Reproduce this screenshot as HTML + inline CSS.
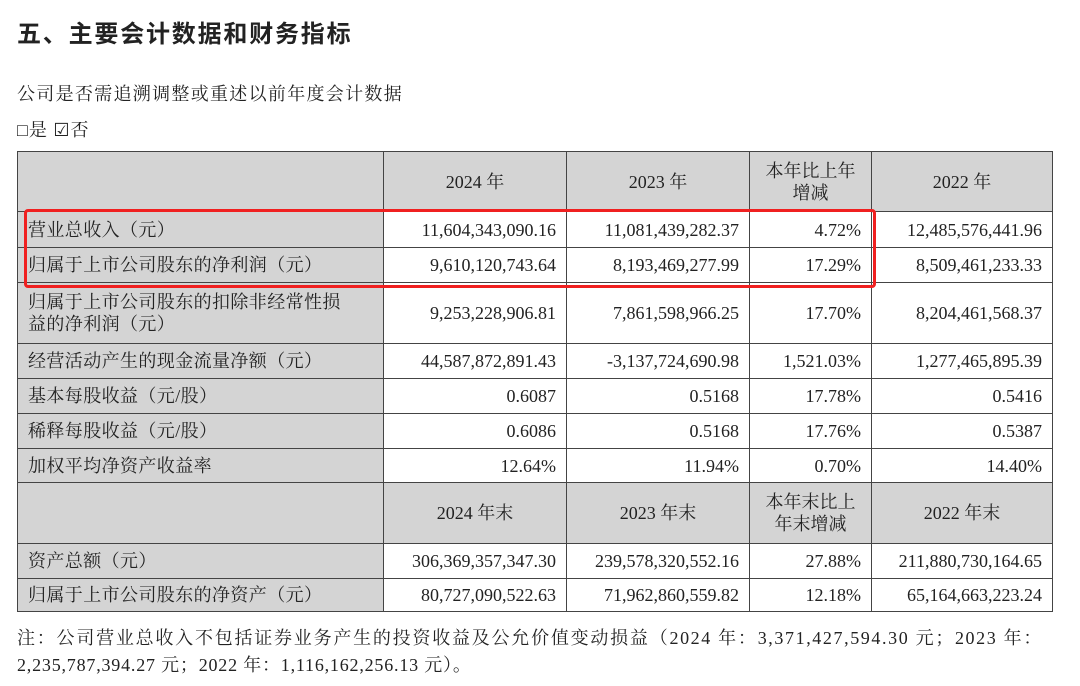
<!DOCTYPE html>
<html><head><meta charset="utf-8"><style>
body{margin:0;width:1080px;height:686px;background:#fff;font-family:"Liberation Serif","Noto Serif CJK SC",serif;color:#222;position:relative;overflow:hidden}
.t{position:absolute;white-space:nowrap}
table{position:absolute;left:17px;top:151px;border-collapse:collapse;font-size:18px}
td{border:1px solid #444;padding:0 10px;line-height:22px}
td.g{background:#d4d4d4;letter-spacing:0.4px}
td.r{text-align:right}
td.c{text-align:center;letter-spacing:0}
.w{letter-spacing:1px}
.box{position:absolute;left:24px;top:209px;width:846px;height:73px;border:3px solid #f02020;border-radius:4px}
</style></head><body>
<div class="t" style="left:17px;top:14px;font-size:24px;letter-spacing:1.8px;font-weight:bold;font-family:'Noto Sans CJK SC',sans-serif">五、主要会计数据和财务指标</div>
<div class="t" style="left:17px;top:80px;font-size:18px;letter-spacing:1.3px">公司是否需追溯调整或重述以前年度会计数据</div>
<div class="t" style="left:17px;top:116px;font-size:18px;letter-spacing:1px">□是 ☑否</div>
<table>
<colgroup><col style="width:366px"><col style="width:183px"><col style="width:183px"><col style="width:122px"><col style="width:181px"></colgroup>
<tr style="height:60px"><td class="g"></td><td class="g c">2024 年</td><td class="g c">2023 年</td><td class="g c w">本年比上年<br>增减</td><td class="g c">2022 年</td></tr>
<tr style="height:36px"><td class="g">营业总收入（元）</td><td class="r">11,604,343,090.16</td><td class="r">11,081,439,282.37</td><td class="r">4.72%</td><td class="r">12,485,576,441.96</td></tr>
<tr style="height:35px"><td class="g">归属于上市公司股东的净利润（元）</td><td class="r">9,610,120,743.64</td><td class="r">8,193,469,277.99</td><td class="r">17.29%</td><td class="r">8,509,461,233.33</td></tr>
<tr style="height:61px"><td class="g">归属于上市公司股东的扣除非经常性损<br>益的净利润（元）</td><td class="r">9,253,228,906.81</td><td class="r">7,861,598,966.25</td><td class="r">17.70%</td><td class="r">8,204,461,568.37</td></tr>
<tr style="height:35px"><td class="g">经营活动产生的现金流量净额（元）</td><td class="r">44,587,872,891.43</td><td class="r">-3,137,724,690.98</td><td class="r">1,521.03%</td><td class="r">1,277,465,895.39</td></tr>
<tr style="height:35px"><td class="g">基本每股收益（元/股）</td><td class="r">0.6087</td><td class="r">0.5168</td><td class="r">17.78%</td><td class="r">0.5416</td></tr>
<tr style="height:35px"><td class="g">稀释每股收益（元/股）</td><td class="r">0.6086</td><td class="r">0.5168</td><td class="r">17.76%</td><td class="r">0.5387</td></tr>
<tr style="height:34px"><td class="g">加权平均净资产收益率</td><td class="r">12.64%</td><td class="r">11.94%</td><td class="r">0.70%</td><td class="r">14.40%</td></tr>
<tr style="height:61px"><td class="g"></td><td class="g c">2024 年末</td><td class="g c">2023 年末</td><td class="g c w">本年末比上<br>年末增减</td><td class="g c">2022 年末</td></tr>
<tr style="height:35px"><td class="g">资产总额（元）</td><td class="r">306,369,357,347.30</td><td class="r">239,578,320,552.16</td><td class="r">27.88%</td><td class="r">211,880,730,164.65</td></tr>
<tr style="height:33px"><td class="g">归属于上市公司股东的净资产（元）</td><td class="r">80,727,090,522.63</td><td class="r">71,962,860,559.82</td><td class="r">12.18%</td><td class="r">65,164,663,223.24</td></tr>
</table>
<div class="box"></div>
<div style="position:absolute;left:17px;top:624px;width:1026px;font-size:18px;text-align:justify;text-align-last:justify;white-space:nowrap;letter-spacing:1.6px">注：公司营业总收入不包括证券业务产生的投资收益及公允价值变动损益（2024 年：3,371,427,594.30 元；2023 年：</div>
<div class="t" style="left:17px;top:651px;font-size:18px;letter-spacing:0.8px">2,235,787,394.27 元；2022 年：1,116,162,256.13 元）。</div>
</body></html>
